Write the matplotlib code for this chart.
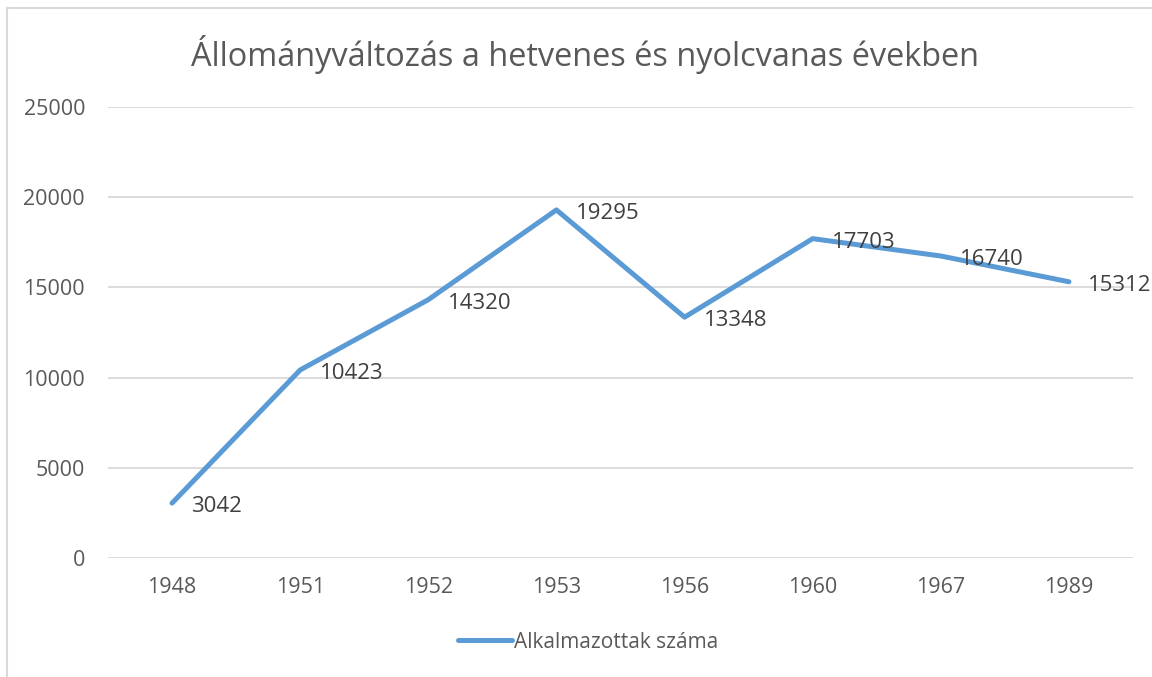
import matplotlib
matplotlib.use("Agg")
import matplotlib.pyplot as plt
from matplotlib.patches import Rectangle

# data
years = ["1948", "1951", "1952", "1953", "1956", "1960", "1967", "1989"]
employees = [3042, 10423, 14320, 19295, 13348, 17703, 16740, 15312]
y_ticks = [0, 5000, 10000, 15000, 20000, 25000]

title = "Állományváltozás a hetvenes és nyolcvanas években"
series_name = "Alkalmazottak száma"

line_color = "#5b9bd5"
text_color = "#595959"
grid_color = "#d9d9d9"

plt.rcParams["font.family"] = ["Open Sans", "DejaVu Sans"]

fig = plt.figure(figsize=(11.52, 6.77), dpi=100)

# outer chart border (cropped at right and bottom in the reference)
fig.patches.append(Rectangle((7 / 1152, -0.1), 1.2, 1 - 8 / 677 + 0.1,
                             transform=fig.transFigure, fill=False,
                             edgecolor=grid_color, linewidth=1.5))

ax = fig.add_axes([108 / 1152, 119 / 677, 1025 / 1152, 451 / 677])
x = list(range(len(years)))
line, = ax.plot(x, employees, color=line_color, lw=3.6,
                solid_capstyle="round", solid_joinstyle="round",
                label=series_name, zorder=3)

# data labels sit to the right of each point
for xi, v in zip(x, employees):
    ax.annotate(str(v), (xi, v), xytext=(14, -2.5), textcoords="offset points",
                ha="left", va="center", fontsize=16, color="#404040",
                zorder=4, annotation_clip=False)

ax.set_xlim(-0.5, len(years) - 0.5)
ax.set_ylim(0, 25000)
ax.set_yticks(y_ticks)
ax.set_yticklabels([str(t) for t in y_ticks])
ax.set_xticks(x)
ax.set_xticklabels(years)
ax.tick_params(axis="both", length=0, labelsize=15.5, colors=text_color)
ax.tick_params(axis="y", pad=16.5)
ax.tick_params(axis="x", pad=14)
ax.grid(axis="y", color=grid_color, lw=1.3)
ax.set_axisbelow(True)
for s in ax.spines.values():
    s.set_visible(False)

fig.text(585 / 1152, 1 - 55 / 677, title, ha="center", va="center",
         fontsize=23.4, color=text_color)

fig.legend(handles=[line], loc="center", bbox_to_anchor=(588 / 1152, 1 - 642 / 677),
           frameon=False, fontsize=15, labelcolor=text_color,
           handlelength=2.6, handletextpad=0.1)

fig.savefig("out.png", dpi=100)
